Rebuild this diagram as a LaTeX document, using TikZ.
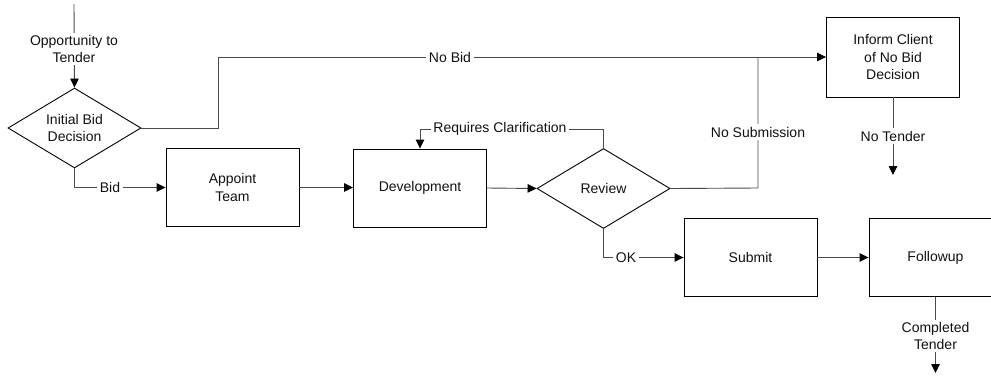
\documentclass[tikz,border=0pt]{standalone}
\usepackage{fontspec}
\setmainfont{Liberation Sans}
\usetikzlibrary{shapes.geometric,arrows.meta}
\definecolor{linegray}{HTML}{4A4A4A}
\definecolor{textgray}{HTML}{111111}
\begin{document}
\begin{tikzpicture}[x=1pt,y=-1pt,
  every node/.style={font=\fontsize{14}{17.5}\selectfont, text=textgray},
  procbox/.style={draw=black, line width=0.9pt, rectangle, minimum width=133pt, minimum height=78pt, inner sep=0pt, align=center},
  decbox/.style={draw=black, line width=0.9pt, diamond, aspect=1.65, minimum width=133pt, minimum height=80pt, inner sep=0pt, align=center},
  conn/.style={draw=linegray, line width=0.9pt},
  arr/.style={conn, -{Triangle[length=9pt,width=8.5pt,color=black]}},
  lbl/.style={fill=white, inner sep=2.5pt, align=center}
]
\useasboundingbox (0,0) rectangle (991,376);
\begin{scope}
\clip (0,0) rectangle (991,376);

% nodes
\coordinate (start) at (74,4);
\node[decbox] (init) at (74.5,128) {Initial Bid\\Decision};
\node[procbox] (appoint) at (232.5,187.5) {Appoint\\Team};
\node[procbox] (dev) at (420,188) {Development};
\node[decbox] (review) at (603.5,188.5) {Review};
\node[procbox] (submit) at (750.5,257.5) {Submit};
\node[procbox] (follow) at (935.5,257.5) {Followup};
\node[procbox, minimum height=80pt] (inform) at (893,57) {Inform Client\\of No Bid\\Decision};
\coordinate (notender) at (893,175);
\coordinate (completed) at (935.5,373);
\coordinate (nbturn) at (218,128);
\coordinate (nsturn) at (758,188);
\coordinate (nsjoin) at (758,57);

% connectors
\draw[arr] (start) -- (init.north);
\draw[arr] (init.south) |- (appoint.west);
\draw[arr] (appoint.east |- 0,187.5) -- (dev.west |- 0,187.5);
\draw[arr] (dev.east) -- (review.west);
\draw[arr] (review.north) -- (603.5,129) -| (dev.north);
\draw[arr] (review.south) |- (submit.west);
\draw[arr] (submit.east) -- (follow.west);
\draw[arr] (init.east) -- (nbturn) |- (inform.west);
\draw[conn] (review.east) -- (nsturn) -- (nsjoin);
\draw[arr] (inform.south) -- (notender);
\draw[arr] (follow.south) -- (completed);

% labels
\node[lbl] (l1) at (74,49) {Opportunity to\\Tender};
\node[lbl] (l2) at (110,187.5) {Bid};
\node[lbl] (l3) at (500,129) {Requires Clarification};
\node[lbl] (l4) at (626,257.5) {OK};
\node[lbl] (l5) at (450,57) {No Bid};
\node[lbl] (l6) at (758,132) {No Submission};
\node[lbl] (l7) at (893,136) {No Tender};
\node[lbl] (l8) at (935.5,336) {Completed\\Tender};
\end{scope}
\end{tikzpicture}
\end{document}
